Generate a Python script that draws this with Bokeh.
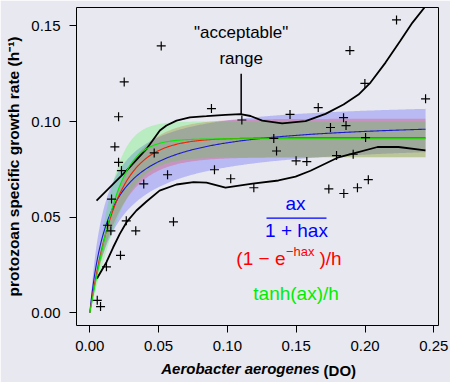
import numpy as np
from bokeh.plotting import figure
from bokeh.models import Range1d, FixedTicker, Label, LinearAxis
from bokeh.embed import file_html
from bokeh.resources import INLINE

# ---------------- data ----------------
do_x = [0.0054, 0.0078, 0.0121, 0.0223, 0.0129, 0.0153, 0.0265, 0.0334, 0.0608,
        0.0158, 0.0392, 0.0565, 0.0230, 0.0209, 0.0182, 0.0468, 0.0209, 0.0250,
        0.0519, 0.0884, 0.1105, 0.0906, 0.1024, 0.1192, 0.1337, 0.1357, 0.1499,
        0.1577, 0.1455, 0.1660, 0.1749, 0.1844, 0.1862, 0.2004, 0.1793, 0.1914,
        0.1737, 0.1846, 0.1945, 0.2024, 0.1999, 0.1890, 0.2229, 0.2440]
growth = [0.0066, 0.0033, 0.0241, 0.0301, 0.0458, 0.0429, 0.0481, 0.0429, 0.0476,
          0.0595, 0.0674, 0.0722, 0.0744, 0.0787, 0.0868, 0.0836, 0.1025, 0.1207,
          0.1395, 0.1068, 0.1008, 0.0748, 0.0701, 0.0654, 0.0912, 0.0846, 0.0795,
          0.0791, 0.1037, 0.1073, 0.0969, 0.1020, 0.0979, 0.0916, 0.0822, 0.0829,
          0.0648, 0.0624, 0.0654, 0.0696, 0.1199, 0.1371, 0.1531, 0.1119]

# smoother envelope (black curves)
upper_x = [0.0049, 0.0267, 0.0412, 0.0509, 0.0557, 0.0630, 0.0727, 0.0848, 0.0986,
           0.1095, 0.1168, 0.1253, 0.1398, 0.1568, 0.1713, 0.1844, 0.1953, 0.2040,
           0.2149, 0.2258, 0.2345, 0.2442]
upper_y = [0.0587, 0.0744, 0.0857, 0.0953, 0.0979, 0.1005, 0.1022, 0.1028, 0.1035,
           0.1039, 0.1029, 0.1005, 0.0991, 0.1002, 0.1040, 0.1089, 0.1141, 0.1204,
           0.1308, 0.1423, 0.1517, 0.1605]
lower_x = [0.0052, 0.0121, 0.0170, 0.0218, 0.0267, 0.0339, 0.0412, 0.0507, 0.0630,
           0.0754, 0.0848, 0.0986, 0.1183, 0.1371, 0.1495, 0.1604, 0.1800, 0.1924,
           0.2091, 0.2243, 0.2439]
lower_y = [0.0180, 0.0265, 0.0343, 0.0413, 0.0474, 0.0535, 0.0582, 0.0639, 0.0671,
           0.0683, 0.0681, 0.0655, 0.0676, 0.0692, 0.0712, 0.0743, 0.0811, 0.0835,
           0.0867, 0.0867, 0.0849]

# fitted model parameters (a, h): fit, band-low, band-high
holling = {"fit": (7.11, 9.84), "lo": (4.80, 11.05), "hi": (10.56, 8.99)}
ivlev = {"fit": (4.79, 10.93), "lo": (4.00, 12.30), "hi": (4.94, 9.86)}
tanhm = {"fit": (3.88, 10.99), "lo": (2.85, 12.30), "hi": (4.93, 9.99)}

x_ticks = [0.0, 0.05, 0.10, 0.15, 0.20, 0.25]
x_tick_labels = ["0.00", "0.05", "0.10", "0.15", "0.20", "0.25"]
y_ticks = [0.0, 0.05, 0.10, 0.15]
y_tick_labels = ["0.00", "0.05", "0.10", "0.15"]

x_title_parts = ["Aerobacter aerogenes", "(DO)"]
y_title = "protozoan specific growth rate (h\u207b\u00b9)"

acceptable_x = 0.11
acceptable_y = (0.104, 0.125)


def f_holling(x, a, h):
    return a * x / (1 + h * a * x)


def f_ivlev(x, a, h):
    return (1 - np.exp(-h * a * x)) / h


def f_tanh(x, a, h):
    return np.tanh(h * a * x) / h


BG = "#e8e8f0"
FONT = "Liberation Sans"

p = figure(width=450, height=382, output_backend="svg", toolbar_location=None,
           x_range=Range1d(-0.00967, 0.2534), y_range=Range1d(-0.00658, 0.1596),
           min_border_left=76, min_border_right=12, min_border_top=7,
           min_border_bottom=57)
p.background_fill_color = BG
p.border_fill_color = BG
p.outline_line_color = "black"
p.outline_line_width = 1
p.xgrid.visible = False
p.ygrid.visible = False

xs = np.linspace(0, max(do_x), 300)

band_specs = [(holling, f_holling, "#0000ff"), (ivlev, f_ivlev, "#ff0000"),
              (tanhm, f_tanh, "#00ff00")]
for par, fn, col in band_specs:
    p.varea(x=xs, y1=fn(xs, *par["lo"]), y2=fn(xs, *par["hi"]),
            fill_color=col, fill_alpha=0.2)

p.line(upper_x, upper_y, line_color="black", line_width=1.8)
p.line(lower_x, lower_y, line_color="black", line_width=1.8)

line_cols = ["#1a1acc", "#ee2200", "#00ee00"]
for (par, fn, _), lc in zip(band_specs, line_cols):
    p.line(xs, fn(xs, *par["fit"]), line_color=lc, line_width=1.1)

p.segment(x0=[acceptable_x], y0=[acceptable_y[0]], x1=[acceptable_x],
          y1=[acceptable_y[1]], line_color="black", line_width=1.5)

p.scatter(do_x, growth, marker="cross", size=9, line_color="black", line_width=1.2)


def style_axis(ax, ticks, labels, size="15px", style="normal", standoff=9, tick_out=7):
    ax.ticker = FixedTicker(ticks=ticks)
    ax.major_label_overrides = {t: l for t, l in zip(ticks, labels)}
    ax.axis_line_color = None
    ax.major_tick_line_color = "black" if tick_out else None
    ax.major_tick_out = tick_out
    ax.major_tick_in = 0
    ax.minor_tick_line_color = None
    ax.major_label_text_font = FONT
    ax.major_label_text_font_size = size
    ax.major_label_text_font_style = style
    ax.major_label_text_color = "black"
    ax.major_label_standoff = standoff


style_axis(p.xaxis[0], x_ticks, x_tick_labels, standoff=8)
style_axis(p.yaxis[0], y_ticks, y_tick_labels)

p.yaxis.axis_label = y_title
p.yaxis.axis_label_text_font = FONT
p.yaxis.axis_label_text_font_size = "15.5px"
p.yaxis.axis_label_text_font_style = "bold"
p.yaxis.axis_label_text_color = "black"
p.yaxis.axis_label_standoff = 6

# x axis title in two styles: two tickless axes whose single labels share one row
title_a = LinearAxis()
style_axis(title_a, [0.1095], [x_title_parts[0]], size="15px", style="bold italic",
           standoff=6, tick_out=0)
p.add_layout(title_a, "below")
title_b = LinearAxis()
style_axis(title_b, [0.1817], [x_title_parts[1]], size="15px", style="bold",
           standoff=-18, tick_out=0)
p.add_layout(title_b, "below")


def add_text(x, y, text, size, color, align="center", style="normal"):
    p.add_layout(Label(x=x, y=y, text=text, text_align=align, text_baseline="middle",
                       text_font=FONT, text_font_size=size, text_font_style=style,
                       text_color=color))


# "acceptable" range annotation
add_text(acceptable_x, 0.1466, '"acceptable"', "17px", "black")
add_text(acceptable_x, 0.1332, "range", "17px", "black")

# formula legend
add_text(0.1495, 0.0574, "ax", "19px", "#0000ff")
p.segment(x0=[0.1284], y0=[0.0495], x1=[0.1720], y1=[0.0495],
          line_color="#0000ff", line_width=1.2)
add_text(0.1502, 0.0430, "1 + hax", "19px", "#0000ff")
add_text(0.1422, 0.0282, "(1 \u2212 e", "19px", "#ff0000", "right")
add_text(0.1425, 0.0323, "\u2212hax", "13px", "#ff0000", "left")
add_text(0.1669, 0.0282, ")/h", "19px", "#ff0000", "left")
add_text(0.1499, 0.0099, "tanh(ax)/h", "19px", "#00ee00")

open("out.html", "w").write(file_html(p, INLINE))
